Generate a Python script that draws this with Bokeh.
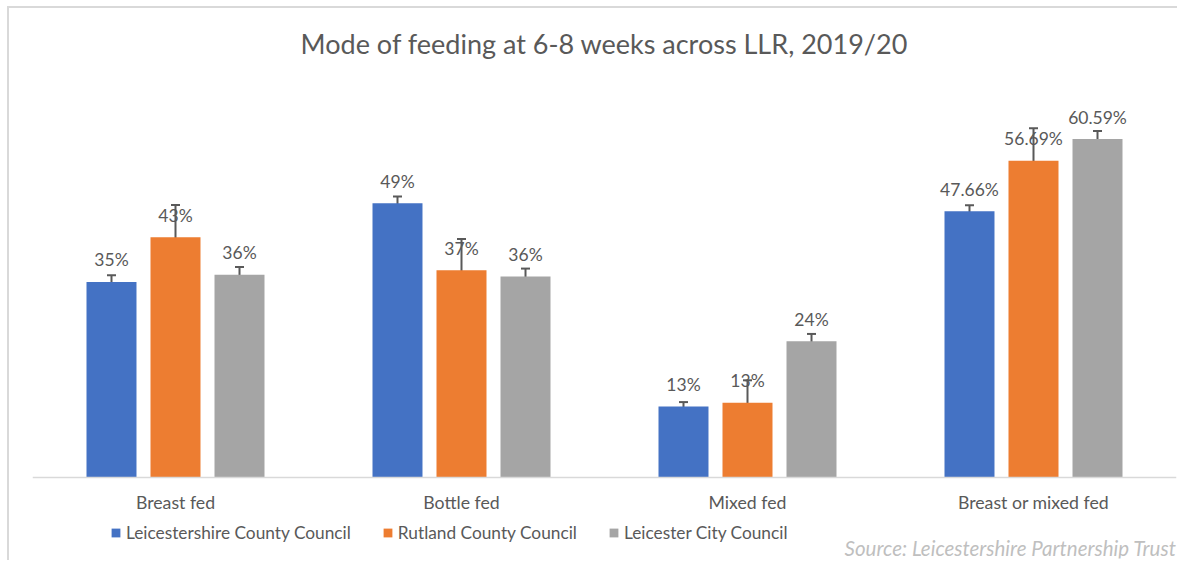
from bokeh.plotting import figure
from bokeh.models import (ColumnDataSource, FactorRange, Range1d, Whisker, TeeHead, Legend,
                          LegendItem, Label, Span)
from bokeh.transform import dodge
from bokeh.core.properties import value
from bokeh.embed import file_html
from bokeh.resources import INLINE

title_text = "Mode of feeding at 6-8 weeks across LLR, 2019/20"
source_text = "Source: Leicestershire Partnership Trust"
categories = ["Breast fed", "Bottle fed", "Mixed fed", "Breast or mixed fed"]
series_names = ["Leicestershire County Council", "Rutland County Council", "Leicester City Council"]
county = [35.0, 49.1, 12.7, 47.66]
rutland = [43.0, 37.1, 13.4, 56.69]
city = [36.3, 36.0, 24.4, 60.59]
county_err = [1.2, 1.2, 0.8, 1.1]
rutland_err = [5.8, 5.6, 4.0, 5.85]
city_err = [1.4, 1.4, 1.3, 1.45]
county_labels = ["35%", "49%", "13%", "47.66%"]
rutland_labels = ["43%", "37%", "13%", "56.69%"]
city_labels = ["36%", "36%", "24%", "60.59%"]

colors = ["#4472C4", "#ED7D31", "#A5A5A5"]
FONT = "Lato"
TXT = "#595959"

p = figure(x_range=FactorRange(*categories), y_range=Range1d(-14.5, 83.96),
           frame_width=1144, frame_height=550,
           min_border_left=23, min_border_right=1, min_border_top=0, min_border_bottom=2,
           output_backend="svg", toolbar_location=None)
p.styles = {"border-left": "2px solid #d9d9d9", "border-top": "2px solid #d9d9d9",
            "margin-left": "7px", "margin-top": "6px"}

p.outline_line_color = None
p.xgrid.grid_line_color = None
p.ygrid.grid_line_color = None
p.yaxis.visible = False
p.xaxis.visible = False

# chart title
p.add_layout(Label(x=572, y=515, x_units="screen", y_units="screen", text=title_text,
                   text_align="center", text_baseline="middle", text_font=FONT,
                   text_font_size="27px", text_color=TXT))

# baseline (category axis line)
p.add_layout(Span(location=0, dimension="width", line_color="#d9d9d9", line_width=1.5))

# category labels placed through the categorical scale
cat_src = ColumnDataSource(dict(cat=categories, y=[0] * len(categories)))
p.text(x="cat", y="y", text="cat", source=cat_src, text_align="center", text_baseline="middle",
       y_offset=25, text_font=value(FONT), text_font_size="17.7px", text_color=TXT)

offsets = [-0.2238, 0.0, 0.2238]
bar_w = 0.1748
series = [(county, county_err, county_labels), (rutland, rutland_err, rutland_labels), (city, city_err, city_labels)]
items = []
for i, (vals, errs, labs) in enumerate(series):
    src = ColumnDataSource(dict(cat=categories, val=vals,
                                upper=[v + e for v, e in zip(vals, errs)],
                                lower=[v - e for v, e in zip(vals, errs)],
                                lab=labs))
    r = p.vbar(x=dodge("cat", offsets[i], range=p.x_range), top="val", width=bar_w,
               source=src, fill_color=colors[i], line_color=None)
    items.append(LegendItem(label=series_names[i], renderers=[r]))
    p.text(x=dodge("cat", offsets[i], range=p.x_range), y="val", text="lab", source=src,
           text_align="center", text_baseline="alphabetic", y_offset=-22,
           text_font=value(FONT), text_font_size="17.5px", text_color=TXT)
    w = Whisker(base=dodge("cat", offsets[i], range=p.x_range), upper="upper", lower="lower",
                source=src, line_color="#595959", line_width=2,
                upper_head=TeeHead(size=9, line_color="#595959", line_width=2),
                lower_head=TeeHead(size=9, line_color="#595959", line_width=2))
    p.add_layout(w)

legend = Legend(items=items, orientation="horizontal", location=(78, 15),
                glyph_width=11, glyph_height=11, label_standoff=5, spacing=31,
                padding=0, margin=0, border_line_color=None, background_fill_alpha=0,
                label_text_font=FONT, label_text_font_size="17.3px", label_text_color=TXT,
                label_height=20)
p.add_layout(legend, "center")

p.add_layout(Label(x=1144, y=11, x_units="screen", y_units="screen",
                   text=source_text, text_align="right",
                   text_baseline="middle", text_font=FONT, text_font_size="20.5px",
                   text_font_style="italic", text_color="#bfbfbf"))

open("out.html", "w").write(file_html(p, INLINE))
